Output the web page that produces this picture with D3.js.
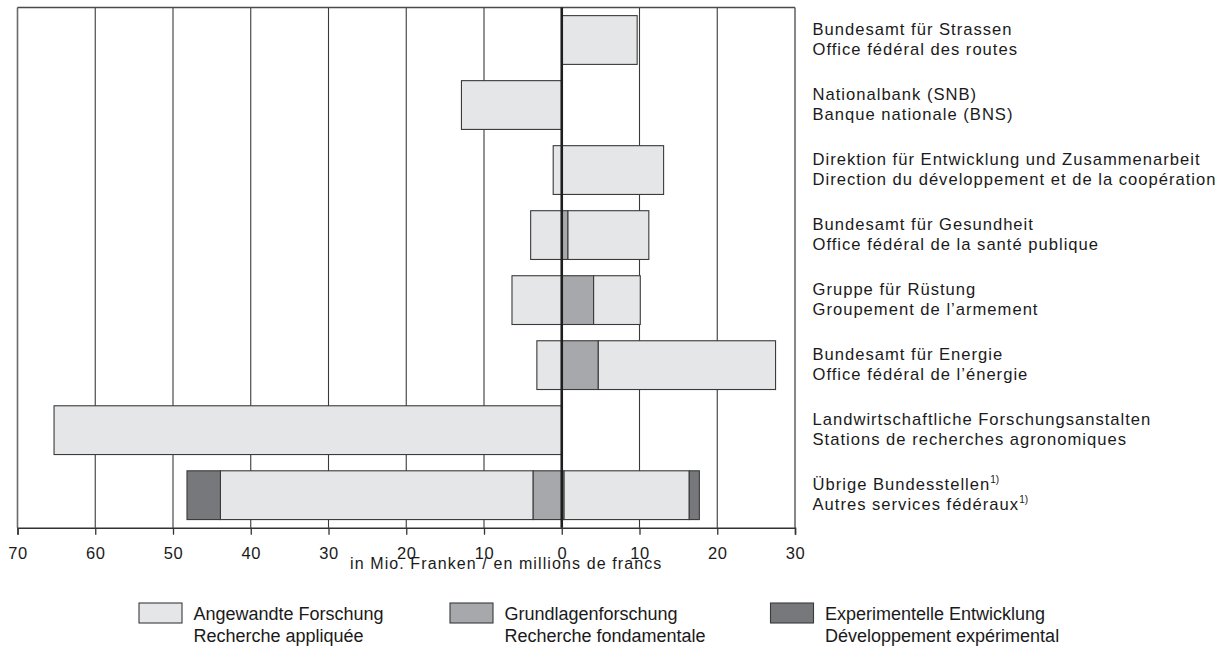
<!DOCTYPE html>
<html>
<head>
<meta charset="utf-8">
<script src="https://cdn.jsdelivr.net/npm/d3@7"></script>
<style>
  html, body { margin: 0; padding: 0; background: #fff; }
  svg { display: block; }
  text { font-family: "Liberation Sans", Arial, Helvetica, sans-serif; fill: #1a1a1a; }
</style>
</head>
<body>
<svg id="chart" width="1227" height="646"></svg>
<script>
// ---- data ----
const categoriesDE = [
  "Bundesamt für Strassen",
  "Nationalbank (SNB)",
  "Direktion für Entwicklung und Zusammenarbeit",
  "Bundesamt für Gesundheit",
  "Gruppe für Rüstung",
  "Bundesamt für Energie",
  "Landwirtschaftliche Forschungsanstalten",
  "Übrige Bundesstellen"
];
const categoriesFR = [
  "Office fédéral des routes",
  "Banque nationale (BNS)",
  "Direction du développement et de la coopération",
  "Office fédéral de la santé publique",
  "Groupement de l’armement",
  "Office fédéral de l’énergie",
  "Stations de recherches agronomiques",
  "Autres services fédéraux"
];
const footnoteFlags = [false, false, false, false, false, false, false, true];

// left side (drawn towards 70), values in Mio. CHF
const leftGrundlagen  = [0, 0, 0, 0, 0, 0, 0, 3.7];
const leftAngewandte  = [0, 12.9, 1.1, 4.0, 6.4, 3.2, 65.3, 40.2];
const leftExperiment  = [0, 0, 0, 0, 0, 0, 0, 4.3];
// right side (drawn towards 30)
const rightGrundlagen = [0, 0, 0, 0.8, 4.1, 4.7, 0, 0.3];
const rightAngewandte = [9.7, 0, 13.1, 10.4, 6.0, 22.8, 0, 16.1];
const rightExperiment = [0, 0, 0, 0, 0, 0, 0, 1.3];

const tickValues = [-70, -60, -50, -40, -30, -20, -10, 0, 10, 20, 30];
const axisTitle = "in Mio. Franken / en millions de francs";

const seriesKeys = ["Grundlagen", "Angewandte", "Experiment"];
const legendDE = ["Angewandte Forschung", "Grundlagenforschung", "Experimentelle Entwicklung"];
const legendFR = ["Recherche appliquée", "Recherche fondamentale", "Développement expérimental"];
const legendKeys = ["Angewandte", "Grundlagen", "Experiment"];

// ---- styles ----
const colors = { Angewandte: "#e5e6e8", Grundlagen: "#a7a8ab", Experiment: "#77787b" };
const strokeCol = "#3a3a3a";

const svg = d3.select("#chart");
const x = d3.scaleLinear().domain([-70, 30]).range([17.5, 795]);
const y = d3.scaleBand().domain(d3.range(categoriesDE.length))
  .range([7.5, 527.7]).paddingInner(0.25).paddingOuter(0.125);
const plotTop = 7.5, plotBottom = 527.7;

// gridlines
svg.append("g").selectAll("line").data(tickValues).join("line")
  .attr("x1", d => x(d)).attr("x2", d => x(d))
  .attr("y1", plotTop).attr("y2", plotBottom)
  .attr("stroke", d => (d === -70 || d === 30) ? "#6a6a6a" : strokeCol)
  .attr("stroke-width", d => (d === -70 || d === 30) ? 1.6 : 1.1);
// top frame
svg.append("line").attr("x1", x(-70)).attr("x2", x(30)).attr("y1", plotTop).attr("y2", plotTop)
  .attr("stroke", "#4a4a4a").attr("stroke-width", 1.3);

// build segments
const segs = [];
const leftVals = { Grundlagen: leftGrundlagen, Angewandte: leftAngewandte, Experiment: leftExperiment };
const rightVals = { Grundlagen: rightGrundlagen, Angewandte: rightAngewandte, Experiment: rightExperiment };
categoriesDE.forEach((c, i) => {
  let accL = 0, accR = 0;
  seriesKeys.forEach(k => {
    const lv = leftVals[k][i];
    if (lv > 0) { segs.push({ i, k, x0: -(accL + lv), x1: -accL }); accL += lv; }
    const rv = rightVals[k][i];
    if (rv > 0) { segs.push({ i, k, x0: accR, x1: accR + rv }); accR += rv; }
  });
});

svg.append("g").selectAll("rect").data(segs).join("rect")
  .attr("x", d => x(d.x0))
  .attr("width", d => x(d.x1) - x(d.x0))
  .attr("y", d => y(d.i))
  .attr("height", y.bandwidth())
  .attr("fill", d => colors[d.k])
  .attr("stroke", strokeCol)
  .attr("stroke-width", 1.1);

// zero line
svg.append("line").attr("x1", x(0)).attr("x2", x(0)).attr("y1", plotTop).attr("y2", plotBottom)
  .attr("stroke", "#1e1e1e").attr("stroke-width", 2.6);

// bottom axis
const axis = d3.axisBottom(x).tickValues(tickValues).tickFormat(d => Math.abs(d)).tickSizeOuter(0).tickSize(7);
const gAxis = svg.append("g").attr("transform", `translate(0,${plotBottom})`).call(axis);
gAxis.select(".domain").attr("stroke", "#333").attr("stroke-width", 1.5);
gAxis.selectAll(".tick line").attr("stroke", "#333").attr("stroke-width", 1.3);
gAxis.selectAll(".tick text")
  .attr("y", 0).attr("dy", null)
  .attr("transform", "translate(0,31)")
  .style("font-size", "16.5px").style("letter-spacing", "0.5px")
  .style("font-family", "'Liberation Sans', Arial, sans-serif").attr("fill", "#1a1a1a");

svg.append("text").attr("x", 350).attr("y", 569)
  .style("font-size", "16px").style("letter-spacing", "1.1px")
  .text(axisTitle);

// category labels
const labels = svg.append("g").selectAll("g").data(categoriesDE.map((d, i) => i)).join("g");
labels.each(function(i) {
  const g = d3.select(this);
  const cy = y(i) + y.bandwidth() / 2;
  const t1 = g.append("text").attr("x", 812.5).attr("y", cy - 5.5)
    .style("font-size", "16.6px").style("letter-spacing", "1.0px").text(categoriesDE[i]);
  const t2 = g.append("text").attr("x", 812.5).attr("y", cy + 15)
    .style("font-size", "16.6px").style("letter-spacing", "1.0px").text(categoriesFR[i]);
  if (footnoteFlags[i]) {
    [t1, t2].forEach(t => t.append("tspan").attr("dy", -7).style("font-size", "10px").style("letter-spacing", "0px").text("1)"));
  }
});

// legend
const legendX = [139, 450, 770.5];
const lg = svg.append("g").selectAll("g").data(legendKeys).join("g")
  .attr("transform", (d, i) => `translate(${legendX[i]},603)`);
lg.append("rect").attr("width", 43).attr("height", 20)
  .attr("fill", d => colors[d]).attr("stroke", strokeCol).attr("stroke-width", 1.1);
lg.append("text").attr("x", 54.5).attr("y", 17).style("font-size", "18px")
  .text((d, i) => legendDE[i]);
lg.append("text").attr("x", 54.5).attr("y", 39).style("font-size", "18px")
  .text((d, i) => legendFR[i]);
</script>
</body>
</html>
